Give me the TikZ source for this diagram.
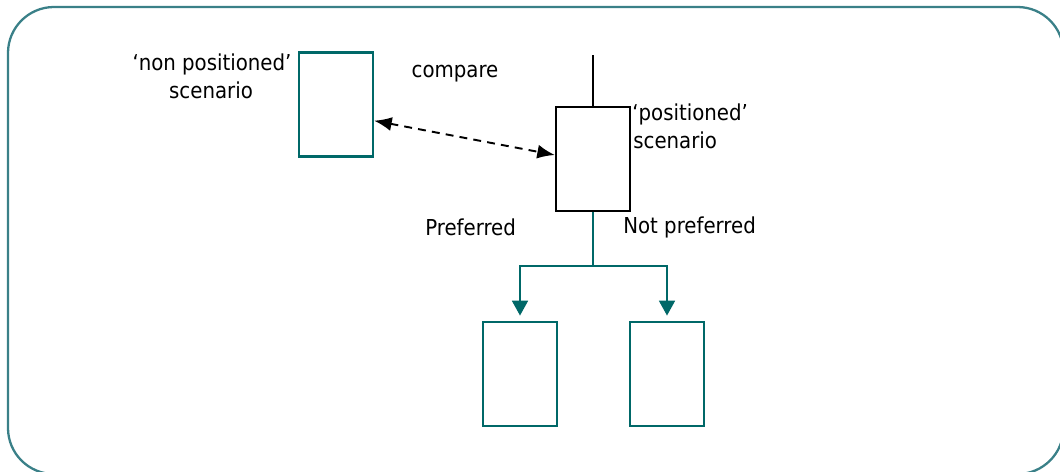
\documentclass[tikz,border=0pt]{standalone}
\usepackage{fontspec}
\setmainfont{DejaVu Sans Condensed}
\usetikzlibrary{arrows.meta}
\definecolor{tealbox}{RGB}{0,104,104}
\definecolor{tealframe}{RGB}{58,128,136}

\begin{document}
\begin{tikzpicture}[x=0.02cm,y=-0.02cm,
  font=\fontsize{12.5}{15}\selectfont,
  box/.style={draw,line width=1.3pt,minimum width=1.48cm,minimum height=2.08cm,inner sep=0pt},
  lbl/.style={inner sep=0pt},
  tealtip/.style={-{Triangle[length=8.5pt,width=9pt]}}]
\useasboundingbox (0,0) rectangle (1060,471);
\clip (0,0) rectangle (1060,471);
\draw[tealframe,line width=1.3pt,rounded corners=0.92cm] (8,7) rectangle (1063.5,474);
				\node[box,tealbox] (np) at (336,104.5) {};
				\node[box] (pos) at (593,159) {};
				\node[box,tealbox] (lb) at (520,374) {};
				\node[box,tealbox] (rb) at (667,374) {};
				\coordinate (top) at (593,55);
				\coordinate (split) at (593,266);
				\node[lbl,anchor=base] (nplabel) at (212,70) {‘non positioned’};
				\node[lbl,anchor=base] (npscen) at (211,98) {scenario};
				\node[lbl,anchor=base] (cmp) at (455,77) {compare};
				\node[lbl,anchor=base west] (poslabel) at (632,120) {‘positioned’};
				\node[lbl,anchor=base west] (posscen) at (633,148) {scenario};
				\node[lbl,anchor=base west] (pref) at (425,235) {Preferred};
				\node[lbl,anchor=base west] (npref) at (623,233) {Not preferred};
				\draw[line width=1pt] (top) -- (pos);
				\draw[{Latex[length=10pt,width=8pt]}-{Latex[length=10pt,width=8pt]},line width=1.1pt,dash pattern=on 4.5pt off 3.5pt] (np.-23) -- (pos.174);
				\draw[tealbox,line width=1.3pt] (pos) -- (split);
				\draw[tealbox,line width=1.3pt,tealtip,shorten >=3pt] (split) -| (lb);
				\draw[tealbox,line width=1.3pt,tealtip,shorten >=3pt] (split) -| (rb);
\end{tikzpicture}
\end{document}
